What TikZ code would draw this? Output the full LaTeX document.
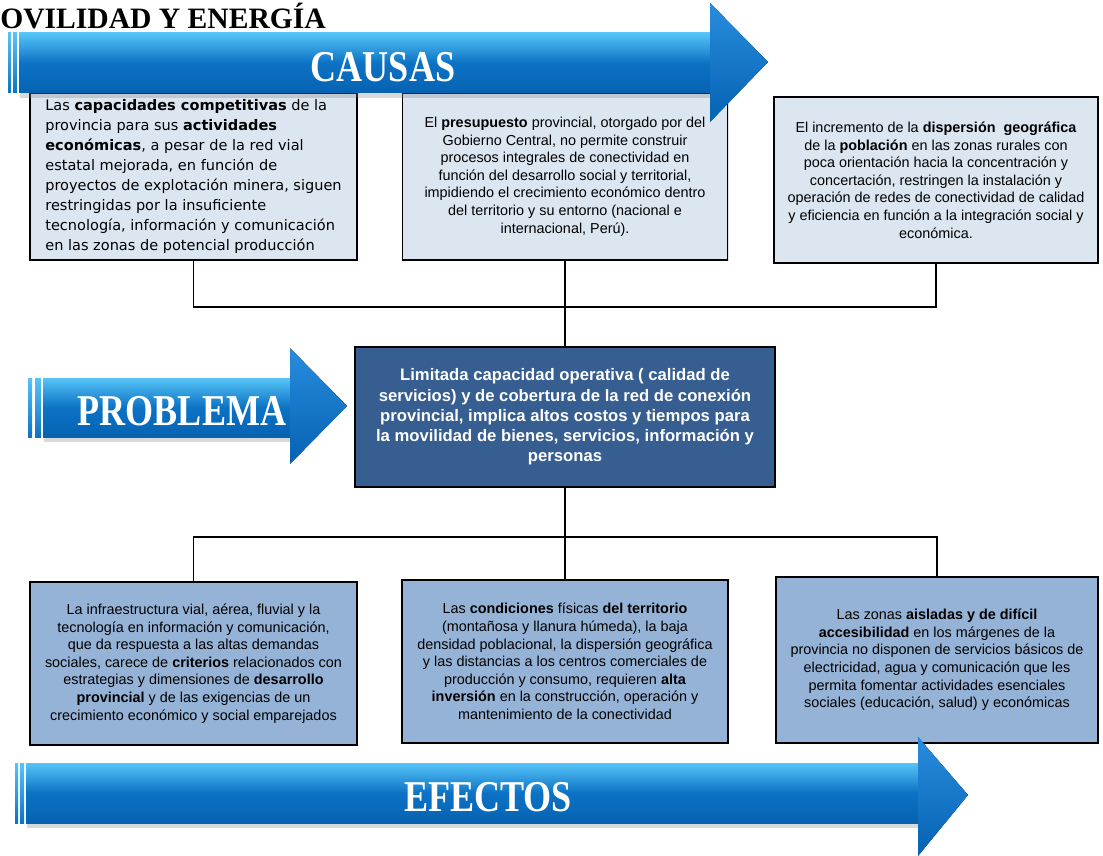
\documentclass[tikz,border=0pt]{standalone}
\usepackage{fontspec}
\setmainfont{Liberation Sans}
\newfontfamily\verdfont{DejaVu Sans}
\newfontfamily\headfont{Liberation Serif}
\usetikzlibrary{shadows}

\definecolor{causefill}{RGB}{220,230,241}
\definecolor{effectfill}{RGB}{149,179,215}
\definecolor{probfill}{RGB}{54,94,145}
\definecolor{arrowlight}{RGB}{86,196,248}
\definecolor{arrowmid}{RGB}{12,114,196}
\definecolor{arrowdark}{RGB}{6,98,178}
\definecolor{headlight}{RGB}{40,140,222}

\begin{document}
\begin{tikzpicture}[x=0.75pt, y=-0.75pt,
box/.style={draw=black, line width=1.1pt, inner sep=0pt, align=center,
  drop shadow={shadow xshift=1pt, shadow yshift=-1pt, opacity=.25}},
cause/.style={box, fill=causefill, font=\fontsize{10.8}{13.2}\selectfont},
effect/.style={box, fill=effectfill, font=\fontsize{10.8}{13.2}\selectfont},
arrowbody/.style={top color=arrowlight, bottom color=arrowdark, middle color=arrowmid,
  drop shadow={shadow xshift=1pt, shadow yshift=-4pt, opacity=.3}},
headshade/.style={top color=headlight, bottom color=arrowdark},
bar/.style={top color=arrowlight, bottom color=arrowmid},
headtext/.style={text=white, inner sep=0pt, font=\headfont\bfseries\fontsize{33}{33}\selectfont}]
\tikzstyle{link}=[line width=1pt, black]
\def\px{0.75pt}
\useasboundingbox (0,0) rectangle (1103,856);

\node[anchor=base west, inner sep=0pt, font=\headfont\bfseries\fontsize{22.2}{22.2}\selectfont] (title) at (0,29) {OVILIDAD Y ENERGÍA};

%CAUSAS
\node[cause, minimum width=327*\px, minimum height=167*\px, align=left,
  font=\verdfont\fontsize{10.9}{15}\selectfont] (c1) at (193.5,176.5)
  {Las \textbf{capacidades competitivas} de la\\
   provincia para sus \textbf{actividades}\\
   \textbf{económicas}, a pesar de la red vial\\
   estatal mejorada, en función de\\
   proyectos de explotación minera, siguen\\
   restringidas por la insuficiente\\
   tecnología, información y comunicación\\
   en las zonas de potencial producción};
\node[cause, minimum width=325*\px, minimum height=167*\px] (c2) at (565,176.5)
  {El \textbf{presupuesto} provincial, otorgado por del\\
   Gobierno Central, no permite construir\\
   procesos integrales de conectividad en\\
   función del desarrollo social y territorial,\\
   impidiendo el crecimiento económico dentro\\
   del territorio y su entorno (nacional e\\
   internacional, Perú).};
\node[cause, minimum width=324*\px, minimum height=166*\px] (c3) at (936,180)
  {El incremento de la \textbf{dispersión\ \ geográfica}\\
   de la \textbf{población} en las zonas rurales con\\
   poca orientación hacia la concentración y\\
   concertación, restringen la instalación y\\
   operación de redes de conectividad de calidad\\
   y eficiencia en función a la integración social y\\
   económica.};

%PROBLEMA
\node[box, fill=probfill, text=white, font=\bfseries\fontsize{12.5}{15.2}\selectfont,
  minimum width=420*\px, minimum height=140*\px] (prob) at (565,417)
  {Limitada capacidad operativa ( calidad de\\
   servicios) y de cobertura de la red de conexión\\
   provincial, implica altos costos y tiempos para\\
   la movilidad de bienes, servicios, información y\\
   personas};

%EFECTOS
\node[effect, minimum width=327*\px, minimum height=163*\px] (e1) at (193.5,663.5)
  {La infraestructura vial, aérea, fluvial y la\\
   tecnología en información y comunicación,\\
   que da respuesta a las altas demandas\\
   sociales, carece de \textbf{criterios} relacionados con\\
   estrategias y dimensiones de \textbf{desarrollo}\\
   \textbf{provincial} y de las exigencias de un\\
   crecimiento económico y social emparejados};
\node[effect, minimum width=326*\px, minimum height=163*\px] (e2) at (565,661.5)
  {Las \textbf{condiciones} físicas \textbf{del territorio}\\
   (montañosa y llanura húmeda), la baja\\
   densidad poblacional, la dispersión geográfica\\
   y las distancias a los centros comerciales de\\
   producción y consumo, requieren \textbf{alta}\\
   \textbf{inversión} en la construcción, operación y\\
   mantenimiento de la conectividad};
\node[effect, minimum width=322*\px, minimum height=166*\px] (e3) at (937,660)
  {Las zonas \textbf{aisladas y de difícil}\\
   \textbf{accesibilidad} en los márgenes de la\\
   provincia no disponen de servicios básicos de\\
   electricidad, agua y comunicación que les\\
   permita fomentar actividades esenciales\\
   sociales (educación, salud) y económicas};

% connectors
\coordinate (cj) at (565,307);
\draw[link] (c1.south) |- (cj) -| (c3.south);
\draw[link] (c2.south) -- (prob.north);
\coordinate (ej) at (565,537);
\draw[link] (prob.south) -- (ej);
\draw[link] (e1.north) |- (ej) -| (e3.north);
\draw[link] (ej) -- (e2.north);

% arrows
\fill[bar] (8,33) rectangle (11,93);
\fill[bar] (13,33) rectangle (17,93);
\fill[arrowbody] (19,33) rectangle (712,93);
\fill[headshade] (710,3) -- (768,62) -- (710,122) -- cycle;
\node[headtext] (causas) at (383,67) {\scalebox{0.82}[1]{CAUSAS}};

\fill[bar] (28,378) rectangle (32,437);
\fill[bar] (35,378) rectangle (41,437);
\fill[arrowbody] (43,378) rectangle (292,437);
\fill[headshade] (290,348) -- (347,406) -- (290,464) -- cycle;
\node[headtext] (problema) at (182,411) {\scalebox{0.82}[1]{PROBLEMA}};

\fill[bar] (15,763) rectangle (18,823);
\fill[bar] (20,763) rectangle (24,823);
\fill[arrowbody] (26,763) rectangle (920,823);
\fill[headshade] (918,737) -- (968,795) -- (918,856) -- cycle;
\node[headtext] (efectos) at (488,797) {\scalebox{0.82}[1]{EFECTOS}};
\end{tikzpicture}
\end{document}
